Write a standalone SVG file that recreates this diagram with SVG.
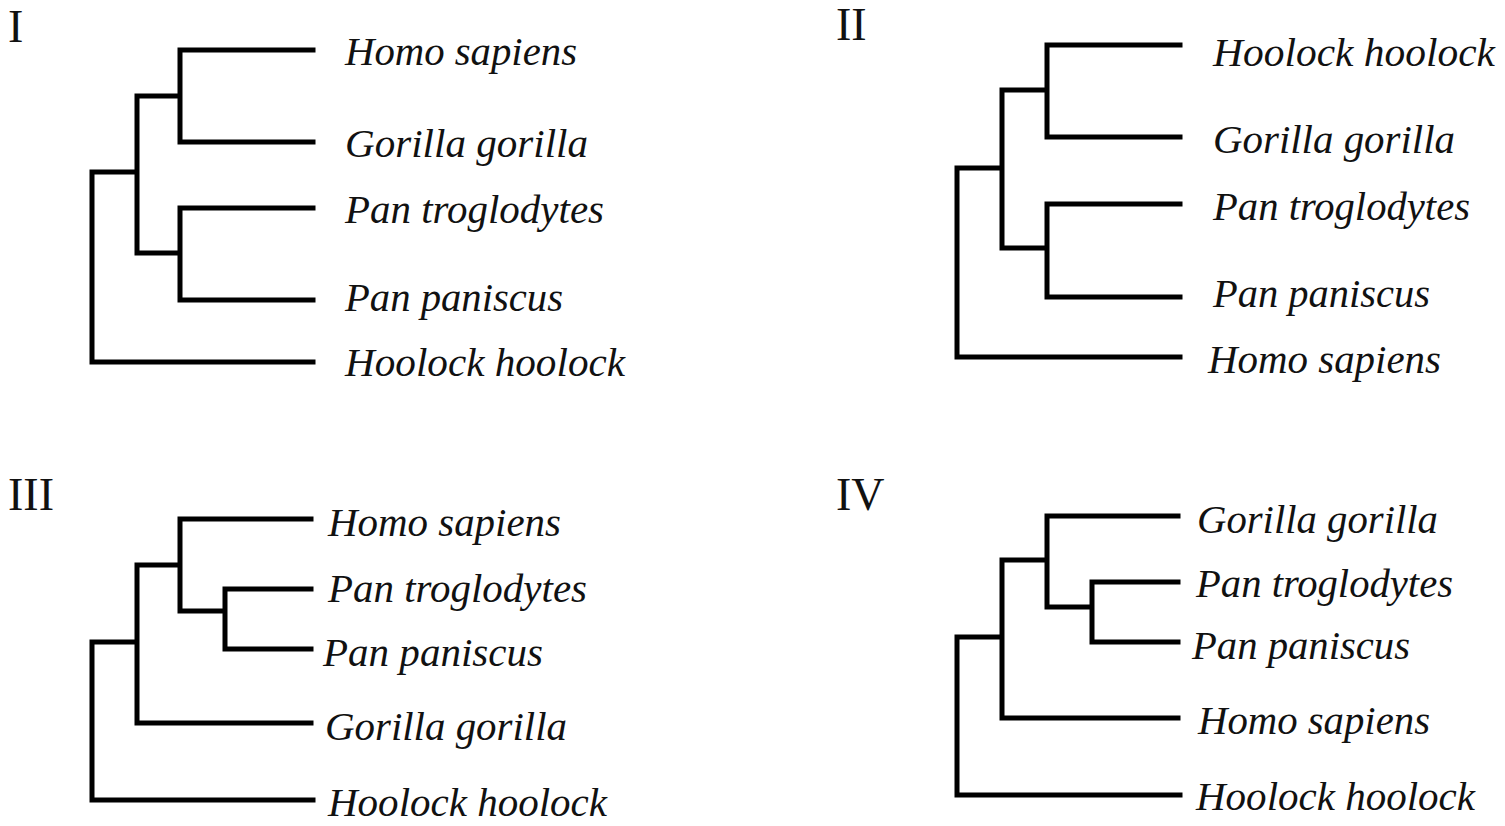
<svg xmlns="http://www.w3.org/2000/svg" width="1505" height="826" viewBox="0 0 1505 826">
<style>
.br{fill:none;stroke:#000;stroke-width:5;stroke-linecap:square;stroke-linejoin:miter}
.lb{font-family:"Liberation Serif","Times New Roman",serif;font-style:italic;font-size:39px;fill:#111}
.rn{font-family:"Liberation Serif","Times New Roman",serif;font-size:46px;fill:#111}
</style>
<rect width="1505" height="826" fill="#fff"/>
<g id="connectors">
<path class="br" d="M313,50H180V142H313M180,96H137V253H180M313,208H180V300H313M137,172H92V362H313"/>
<path class="br" d="M1180,45H1047V137H1180M1047,90H1002V248H1047M1180,204H1047V297H1180M1002,168H957V357H1180"/>
<path class="br" d="M311,519H180V611H225M180,565H137V723H311M311,589H225V649H311M137,642H92V800H313"/>
<path class="br" d="M1178,516H1047V607H1092M1047,560H1002V718H1178M1178,582H1092V642H1178M1002,637H957V795H1180"/>
</g>
<g id="tree-I">
<text class="rn" x="8" y="42">I</text>
<text class="lb" x="345" y="65" textLength="232" lengthAdjust="spacingAndGlyphs">Homo sapiens</text>
<text class="lb" x="345" y="157" textLength="243" lengthAdjust="spacingAndGlyphs">Gorilla gorilla</text>
<text class="lb" x="345" y="223" textLength="259" lengthAdjust="spacingAndGlyphs">Pan troglodytes</text>
<text class="lb" x="345" y="311" textLength="218" lengthAdjust="spacingAndGlyphs">Pan paniscus</text>
<text class="lb" x="345" y="376" textLength="280" lengthAdjust="spacingAndGlyphs">Hoolock hoolock</text>
</g>
<g id="tree-II">
<text class="rn" x="836" y="40">II</text>
<text class="lb" x="1213" y="66" textLength="282" lengthAdjust="spacingAndGlyphs">Hoolock hoolock</text>
<text class="lb" x="1213" y="153" textLength="242" lengthAdjust="spacingAndGlyphs">Gorilla gorilla</text>
<text class="lb" x="1213" y="220" textLength="257" lengthAdjust="spacingAndGlyphs">Pan troglodytes</text>
<text class="lb" x="1213" y="307" textLength="217" lengthAdjust="spacingAndGlyphs">Pan paniscus</text>
<text class="lb" x="1208" y="373" textLength="233" lengthAdjust="spacingAndGlyphs">Homo sapiens</text>
</g>
<g id="tree-III">
<text class="rn" x="8" y="510">III</text>
<text class="lb" x="328" y="536" textLength="233" lengthAdjust="spacingAndGlyphs">Homo sapiens</text>
<text class="lb" x="328" y="602" textLength="259" lengthAdjust="spacingAndGlyphs">Pan troglodytes</text>
<text class="lb" x="323" y="666" textLength="220" lengthAdjust="spacingAndGlyphs">Pan paniscus</text>
<text class="lb" x="325" y="740" textLength="242" lengthAdjust="spacingAndGlyphs">Gorilla gorilla</text>
<text class="lb" x="328" y="816" textLength="279" lengthAdjust="spacingAndGlyphs">Hoolock hoolock</text>
</g>
<g id="tree-IV">
<text class="rn" x="836" y="510">IV</text>
<text class="lb" x="1197" y="533" textLength="241" lengthAdjust="spacingAndGlyphs">Gorilla gorilla</text>
<text class="lb" x="1196" y="597" textLength="257" lengthAdjust="spacingAndGlyphs">Pan troglodytes</text>
<text class="lb" x="1192" y="659" textLength="218" lengthAdjust="spacingAndGlyphs">Pan paniscus</text>
<text class="lb" x="1198" y="734" textLength="232" lengthAdjust="spacingAndGlyphs">Homo sapiens</text>
<text class="lb" x="1196" y="810" textLength="279" lengthAdjust="spacingAndGlyphs">Hoolock hoolock</text>
</g>
</svg>
